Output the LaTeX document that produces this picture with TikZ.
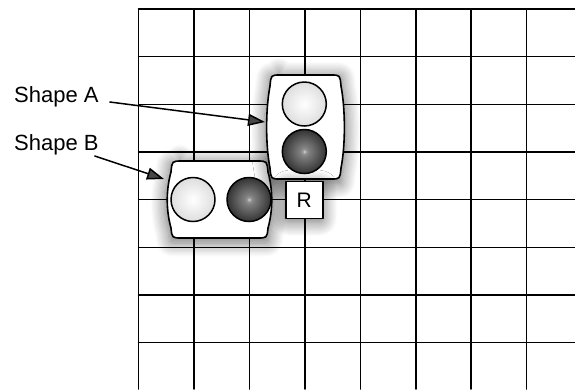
\documentclass[tikz,border=0pt]{standalone}
\usepackage{fontspec}
\setmainfont{Liberation Sans}
\usetikzlibrary{arrows.meta,shadows.blur}

\pgfdeclareradialshading{lightball}{\pgfpointorigin}{color(0bp)=(white); color(25bp)=(black!13); color(50bp)=(black!13)}
\pgfdeclareradialshading{darkball}{\pgfpointorigin}{color(0bp)=(black!15); color(2bp)=(black!40); color(5bp)=(black!50); color(25bp)=(black!80); color(50bp)=(black!80)}

\tikzset{
    gridline/.style={line width=1.5pt},
    holder/.style={draw, fill=white, line width=1.6pt,
        blur shadow={shadow xshift=0pt, shadow yshift=-3pt, shadow scale=1.05, shadow blur radius=13pt, shadow blur steps=12, shadow blur extra rounding=4pt, shadow opacity=55}},
    lamp/.style={draw, line width=1.5pt},
    pointer/.style={line width=1.5pt, -{Triangle[length=17pt, width=12pt]}},
    tag/.style={font=\fontsize{22}{26}\selectfont, inner sep=0pt}
}

\begin{document}
\begin{tikzpicture}[line cap=round, line join=round, x=1pt, y=-1pt]
                \useasboundingbox (0, 0) rectangle (575, 389);
                % grid
                \foreach \i in {0,...,7} {
                    \draw[gridline] ({138.5+55.45*\i}, 9) -- ({138.5+55.45*\i}, 389);
                    \draw[gridline] (138.5, {9+47.67*\i}) -- (575, {9+47.67*\i});
                }
                % shape B
                \draw[holder] (182, 161) -- (257, 161) .. controls (267, 161) .. (268, 172)
                    .. controls (273, 190) and (273, 210) .. (268, 228)
                    .. controls (267, 238) .. (257, 238) -- (182, 238)
                    .. controls (172, 238) .. (171, 228)
                    .. controls (166, 210) and (166, 190) .. (171, 172)
                    .. controls (172, 161) .. (182, 161) -- cycle;
                % shape A
                \draw[holder] (280, 75) -- (331, 75) .. controls (340, 75) .. (341, 86)
                    .. controls (345.5, 110) and (345.5, 145) .. (341, 168)
                    .. controls (340, 179) .. (331, 179) -- (280, 179)
                    .. controls (271, 179) .. (270, 168)
                    .. controls (265.5, 145) and (265.5, 110) .. (270, 86)
                    .. controls (271, 75) .. (280, 75) -- cycle;
                \foreach \x/\y/\ball in {304.3/104/lightball, 304.3/151.5/darkball, 193/199.5/lightball, 249/199.5/darkball}
                    \draw[lamp, shading=\ball] (\x, \y) circle (22);
                \node[holder, minimum size=37pt, inner sep=0pt, font=\fontsize{21}{25}\selectfont] (rot) at (304.3, 200) {R};
                % labels
                \coordinate (tipA) at (265, 122);
                \coordinate (tipB) at (164, 179);
                \node[tag, anchor=base west] (labA) at (14, 102) {Shape A};
                \node[tag, anchor=base west] (labB) at (14, 150) {Shape B};
                \draw[pointer] ([xshift=11pt]labA.base east) -- (tipA);
                \draw[pointer] ([shift={(-4, 6)}]labB.base east) -- (tipB);
\end{tikzpicture}
\end{document}
